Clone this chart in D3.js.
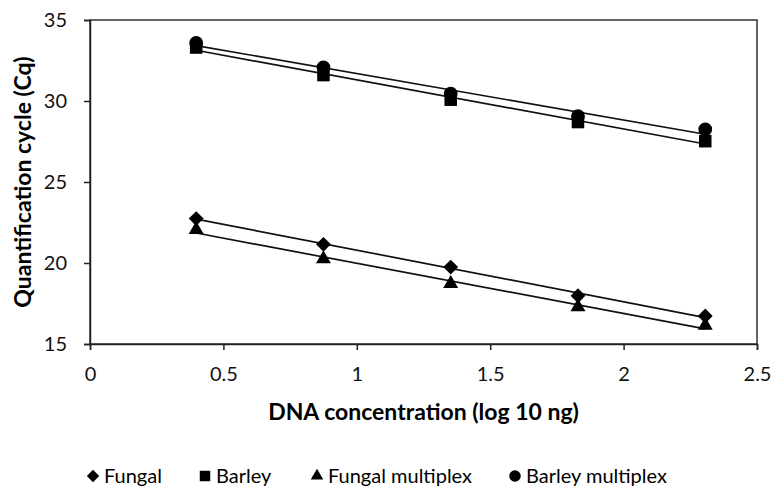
<!DOCTYPE html>
<html>
<head>
<meta charset="utf-8">
<script src="https://cdn.jsdelivr.net/npm/d3@7"></script>
<style>
  body { margin: 0; background: #fff; }
  svg { font-family: Lato, "Open Sans", sans-serif; }
</style>
</head>
<body>
<div class="chart"></div>
<script>
// log10 ng, 3-fold dilution series
const xValues = [0.398, 0.875, 1.352, 1.829, 2.306];
const fungal = [22.74, 21.15, 19.75, 17.98, 16.73];
const barley = [33.3, 31.6, 30.08, 28.7, 27.52];
const fungalMultiplex = [22.06, 20.25, 18.72, 17.29, 16.15];
const barleyMultiplex = [33.58, 32.08, 30.45, 29.06, 28.25];
const xTicks = [0, 0.5, 1, 1.5, 2, 2.5];
const yTicks = [15, 20, 25, 30, 35];

const seriesList = [
  { name: "Fungal", values: fungal, symbol: d3.symbolDiamond2, size: 140 },
  { name: "Barley", values: barley, symbol: d3.symbolSquare2, size: 200 },
  { name: "Fungal multiplex", values: fungalMultiplex, symbol: d3.symbolTriangle2, size: 160 },
  { name: "Barley multiplex", values: barleyMultiplex, symbol: d3.symbolCircle, size: 150 }
];

const width = 775, height = 489;
const margin = { top: 20, right: 18, bottom: 145, left: 90 };

const x = d3.scaleLinear().domain([0, 2.5]).range([margin.left, width - margin.right]);
const y = d3.scaleLinear().domain([15, 35]).range([height - margin.bottom, margin.top]);

const svg = d3.select('.chart')
  .append('svg')
  .attr('width', width)
  .attr('height', height);

// plot border
svg.append("rect")
  .attr("x", x(0)).attr("y", y(35))
  .attr("width", x(2.5) - x(0)).attr("height", y(15) - y(35))
  .attr("fill", "none").attr("stroke", "#333").attr("stroke-width", 1.5);

const xAxis = svg.append("g")
  .attr("transform", `translate(0,${y(15)})`)
  .call(d3.axisBottom(x).tickValues(xTicks).tickSize(6).tickPadding(17).tickFormat(d3.format("")));
const yAxis = svg.append("g")
  .attr("transform", `translate(${x(0)},0)`)
  .call(d3.axisLeft(y).tickValues(yTicks).tickSize(6).tickPadding(17));

[xAxis, yAxis].forEach(g => {
  g.select(".domain").attr("stroke", "#222").attr("stroke-width", 1.5);
  g.selectAll(".tick line").attr("stroke", "#222").attr("stroke-width", 1.5);
  g.selectAll(".tick text").attr("font-size", 20).attr("fill", "#111").attr("font-family", "Lato, sans-serif");
});

// trendlines (least squares), drawn over the data range
const line = d3.line().x(d => x(d[0])).y(d => y(d[1]));
seriesList.forEach(s => {
  const mx = d3.mean(xValues), my = d3.mean(s.values);
  const slope = d3.sum(xValues, (v, i) => (v - mx) * (s.values[i] - my)) /
                d3.sum(xValues, v => (v - mx) ** 2);
  const b = my - slope * mx;
  const x0 = d3.min(xValues), x1 = d3.max(xValues);
  svg.append("path")
    .attr("d", line([[x0, b + slope * x0], [x1, b + slope * x1]]))
    .attr("fill", "none").attr("stroke", "#111").attr("stroke-width", 1.7);
});

seriesList.forEach(s => {
  svg.append("g").selectAll("path")
    .data(s.values)
    .join("path")
      .attr("transform", (d, i) => `translate(${x(xValues[i])},${y(d)})`)
      .attr("d", d3.symbol(s.symbol, s.size))
      .attr("fill", "#000");
});

svg.append("text")
  .attr("x", (x(0) + x(2.5)) / 2).attr("y", 420)
  .attr("text-anchor", "middle")
  .attr("font-size", 23).attr("font-weight", "bold")
  .text("DNA concentration (log 10 ng)");

svg.append("text")
  .attr("transform", `translate(23,${(y(15) + y(35)) / 2}) rotate(-90)`)
  .attr("text-anchor", "middle")
  .attr("dy", "0.35em")
  .attr("font-size", 23).attr("font-weight", "bold")
  .text("Quantification cycle (Cq)");

// legend
const legendX = [93, 205, 317, 515];
const legend = svg.append("g").selectAll("g")
  .data(seriesList)
  .join("g")
  .attr("transform", (d, i) => `translate(${legendX[i]},476)`);
legend.append("path")
  .attr("d", d => d3.symbol(d.symbol, d.size * 0.7)())
  .attr("fill", "#000");
legend.append("text")
  .attr("x", 11).attr("dy", "0.35em")
  .attr("font-size", 20)
  .text(d => d.name);
</script>
</body>
</html>
